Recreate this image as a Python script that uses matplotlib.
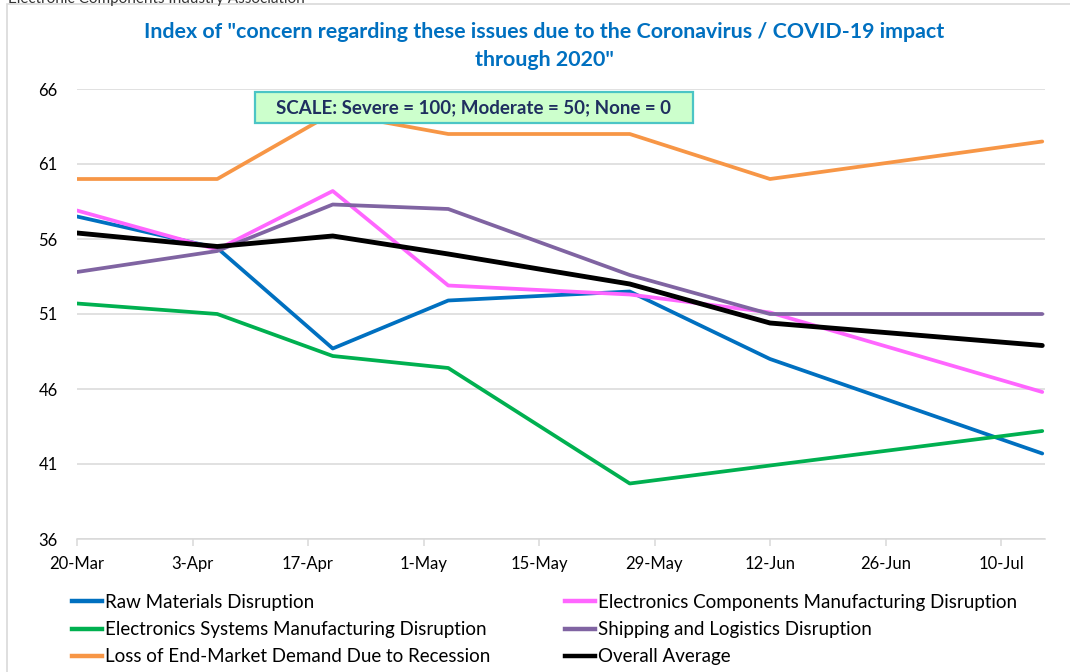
import numpy as np
import pandas as pd
import matplotlib
matplotlib.use('Agg')
import matplotlib.pyplot as plt
from matplotlib.lines import Line2D
from matplotlib.patches import Rectangle

plt.rcParams['font.family'] = ['Lato', 'DejaVu Sans']

# ---------------------------------------------------------------------------
# Data
# ---------------------------------------------------------------------------
dates = pd.to_datetime(['2020-03-20', '2020-04-06', '2020-04-20', '2020-05-04',
                        '2020-05-26', '2020-06-12', '2020-07-15'])
raw_materials = [57.5, 55.4, 48.7, 51.9, 52.5, 48.0, 41.7]
components_mfg = [57.9, 55.3, 59.2, 52.9, 52.3, 51.1, 45.8]
systems_mfg = [51.7, 51.0, 48.2, 47.4, 39.7, 40.9, 43.2]
shipping = [53.8, 55.2, 58.3, 58.0, 53.6, 51.0, 51.0]
end_demand = [60.0, 60.0, 64.4, 63.0, 63.0, 60.0, 62.5]
overall_avg = [56.4, 55.5, 56.2, 55.0, 53.0, 50.4, 48.9]

tick_dates = pd.date_range('2020-03-20', periods=9, freq='14D')
tick_labels = ['20-Mar', '3-Apr', '17-Apr', '1-May', '15-May',
               '29-May', '12-Jun', '26-Jun', '10-Jul']
y_ticks = [36, 41, 46, 51, 56, 61, 66]

series = [
    ('Raw Materials Disruption', raw_materials, '#0070C0', 2.7),
    ('Electronics Components Manufacturing Disruption', components_mfg, '#FF66FF', 2.7),
    ('Electronics Systems Manufacturing Disruption', systems_mfg, '#00B050', 2.7),
    ('Shipping and Logistics Disruption', shipping, '#8064A2', 2.7),
    ('Loss of End-Market Demand Due to Recession', end_demand, '#F79646', 2.7),
    ('Overall Average', overall_avg, '#000000', 3.5),
]

# ---------------------------------------------------------------------------
# Figure
# ---------------------------------------------------------------------------
W, H = 1070, 672
fig = plt.figure(figsize=(W / 100, H / 100), dpi=100)
fig.patch.set_facecolor('white')

# outer chart border (left/top visible in the crop)
fig.patches.append(Rectangle((7 / W, -0.05), 1.2, 1 - 4 / H + 0.05,
                             transform=fig.transFigure, fill=False,
                             edgecolor='#D9D9D9', linewidth=1.2))
# header text, cut off by the top edge as in the source screenshot
fig.text(8 / W, 1 - 2.5 / H, 'Electronic Components Industry Association',
         fontsize=11, color='#333333', va='baseline', ha='left')

ax = fig.add_axes([77 / W, 1 - 539 / H, 968 / W, 450 / H])

handles = {}
for name, vals, color, lw in series:
    ln, = ax.plot(dates, vals, color=color, linewidth=lw,
                  solid_joinstyle='round', solid_capstyle='round', label=name)
    handles[name] = ln

ax.set_ylim(36, 66)
ax.set_yticks(y_ticks)
ax.set_xlim(pd.Timestamp('2020-03-20'), pd.Timestamp('2020-07-15 08:00'))
ax.set_xticks(tick_dates)
ax.set_xticklabels(tick_labels)

ax.grid(axis='y', color='#D9D9D9', linewidth=1.1)
ax.set_axisbelow(True)
for s in ['top', 'right', 'left']:
    ax.spines[s].set_visible(False)
ax.spines['bottom'].set_color('#D9D9D9')
ax.spines['bottom'].set_linewidth(1.1)
ax.tick_params(axis='y', length=0, pad=14, labelsize=12, labelcolor='#000000')
ax.tick_params(axis='x', length=5, width=1.1, color='#D9D9D9', pad=7,
               labelsize=12, labelcolor='#000000')

# title
fig.text(544 / W, 1 - 46 / H,
         'Index of "concern regarding these issues due to the Coronavirus / COVID-19 impact\nthrough 2020"',
         ha='center', va='center', fontsize=15.4, fontweight='bold',
         color='#0070C0', linespacing=1.45)

# scale box
bx0, by0, bx1, by1 = 255, 92, 693, 123
fig.patches.append(Rectangle((bx0 / W, 1 - by1 / H), (bx1 - bx0) / W, (by1 - by0) / H,
                             transform=fig.transFigure, facecolor='#CCFFCC',
                             edgecolor='#4BC5C5', linewidth=1.6, zorder=5))
fig.text((bx0 + bx1) / 2 / W, 1 - (by0 + by1) / 2 / H,
         'SCALE: Severe = 100; Moderate = 50; None = 0',
         ha='center', va='center', fontsize=13.5, fontweight='bold',
         color='#1F2F5F', zorder=6)

# legend in two columns
col1 = ['Raw Materials Disruption',
        'Electronics Systems Manufacturing Disruption',
        'Loss of End-Market Demand Due to Recession']
col2 = ['Electronics Components Manufacturing Disruption',
        'Shipping and Logistics Disruption',
        'Overall Average']
for names, x0 in [(col1, 72), (col2, 565)]:
    hs = [Line2D([], [], color=handles[n].get_color(), linewidth=3.2) for n in names]
    fig.legend(hs, names, loc='upper left',
               bbox_to_anchor=(x0 / W, 1 - 594 / H),
               frameon=False, fontsize=13.5, handlelength=1.6,
               handletextpad=0.15, labelspacing=0.54, borderpad=0,
               borderaxespad=0)

fig.savefig('out.png', dpi=100, facecolor='white')
